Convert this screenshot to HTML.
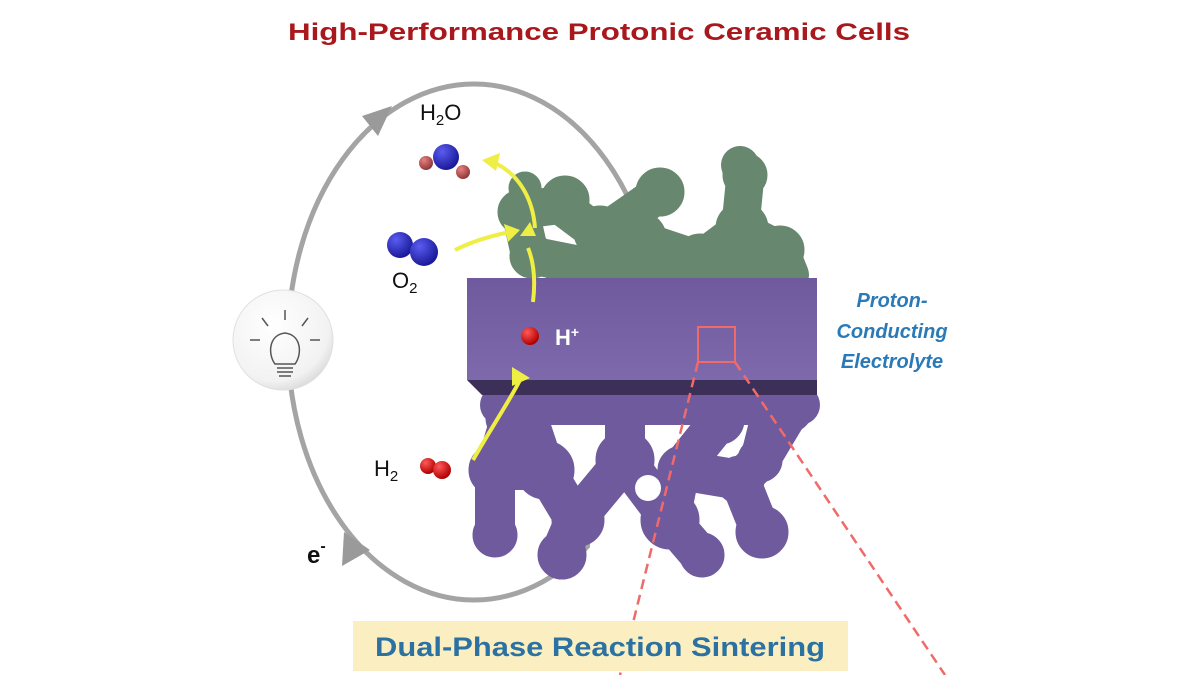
<!DOCTYPE html>
<html><head><meta charset="utf-8"><style>
html,body{margin:0;padding:0;background:#fff;}
svg{display:block;font-family:"Liberation Sans",Arial,sans-serif;}
</style></head><body>
<svg width="1200" height="675" viewBox="0 0 1200 675" xmlns="http://www.w3.org/2000/svg">
<defs>
<radialGradient id="bulb" cx="0.4" cy="0.35" r="0.7"><stop offset="0" stop-color="#ffffff"/><stop offset="0.8" stop-color="#f2f2f2"/><stop offset="1" stop-color="#d8d8d8"/></radialGradient>
<radialGradient id="blue" cx="0.35" cy="0.3" r="0.7"><stop offset="0" stop-color="#5a5cf0"/><stop offset="1" stop-color="#1a1a9a"/></radialGradient>
<radialGradient id="red" cx="0.35" cy="0.3" r="0.7"><stop offset="0" stop-color="#ff5a5a"/><stop offset="1" stop-color="#b00000"/></radialGradient>
<radialGradient id="pink" cx="0.35" cy="0.3" r="0.7"><stop offset="0" stop-color="#e88080"/><stop offset="1" stop-color="#903838"/></radialGradient>
<linearGradient id="face" x1="0" y1="0" x2="0" y2="1"><stop offset="0" stop-color="#6e5a9c"/><stop offset="1" stop-color="#7e69ad"/></linearGradient>
</defs>
<rect width="1200" height="675" fill="#fff"/>
<text x="599" y="40" text-anchor="middle" font-size="24" font-weight="bold" fill="#a8181c" textLength="622" lengthAdjust="spacingAndGlyphs">High-Performance Protonic Ceramic Cells</text>

<!-- loop -->
<ellipse cx="474" cy="342" rx="186" ry="258" fill="none" stroke="#a4a4a4" stroke-width="5"/>
<rect x="590" y="198" width="100" height="352" fill="#fff"/>
<polygon points="392,106 362,116 378,136" fill="#9a9a9a"/>
<polygon points="344,532 342,566 370,550" fill="#9a9a9a"/>

<!-- bulb -->
<circle cx="283" cy="340" r="50" fill="url(#bulb)" stroke="#e0e0e0"/>
<g stroke="#555" stroke-width="1.5" fill="none">
<line x1="285" y1="310" x2="285" y2="320"/><line x1="262" y1="318" x2="268" y2="326"/><line x1="308" y1="318" x2="302" y2="326"/>
<line x1="250" y1="340" x2="260" y2="340"/><line x1="310" y1="340" x2="320" y2="340"/>
<path d="M275,364 C268,355 268,335 285,333 C302,335 302,355 295,364 Z"/>
<line x1="277" y1="368" x2="293" y2="368"/><line x1="277" y1="372" x2="293" y2="372"/><line x1="279" y1="376" x2="291" y2="376"/>
</g>

<!-- green cathode -->
<g fill="#68876f" stroke="#68876f" stroke-linecap="round">
<path d="M520,210 L560,205 L600,235 L650,200 L660,190 M600,235 L640,240 L700,260 L740,230 L745,180 L740,165 M740,230 L780,250 L790,275 M530,255 L580,265 M640,240 L650,275 M700,260 L730,280 M520,210 L530,255 M560,265 L780,270" stroke-width="38" fill="none"/>
<circle cx="520" cy="212" r="22"/><circle cx="532" cy="256" r="22"/><circle cx="565" cy="200" r="24"/>
<circle cx="600" cy="232" r="26"/><circle cx="660" cy="192" r="24"/><circle cx="640" cy="238" r="26"/>
<circle cx="700" cy="258" r="24"/><circle cx="742" cy="228" r="26"/><circle cx="745" cy="175" r="22"/>
<circle cx="780" cy="250" r="24"/><circle cx="582" cy="265" r="20"/><circle cx="525" cy="188" r="16"/>
</g>

<!-- purple anode -->
<g fill="#6e5a9c" stroke="#6e5a9c" stroke-linecap="round">
<path d="M510,420 L495,470 L495,530 M495,470 L545,470 L575,520 L560,555 M545,470 L525,410 M575,520 L625,460 L625,400 M625,460 L670,520 L700,555 M670,520 L680,470 L720,420 M680,470 L740,480 L760,530 M740,480 L760,460 L790,410 M760,460 L770,420 M500,405 L800,405" stroke-width="40" fill="none"/>
<circle cx="510" cy="418" r="24"/><circle cx="495" cy="470" r="26"/><circle cx="495" cy="535" r="22"/>
<circle cx="545" cy="470" r="29"/><circle cx="578" cy="520" r="26"/><circle cx="562" cy="555" r="24"/>
<circle cx="625" cy="400" r="22"/><circle cx="625" cy="460" r="29"/><circle cx="670" cy="520" r="29"/>
<circle cx="682" cy="470" r="24"/><circle cx="720" cy="420" r="24"/><circle cx="740" cy="480" r="24"/>
<circle cx="762" cy="532" r="26"/><circle cx="790" cy="410" r="22"/><circle cx="760" cy="460" r="22"/>
<circle cx="702" cy="555" r="22"/>
</g>
<circle cx="648" cy="488" r="13" fill="#fff"/>

<!-- electrolyte -->
<polygon points="467,380 817,380 817,395 482,395" fill="#3c2f58"/>
<rect x="467" y="278" width="350" height="102" fill="url(#face)"/>

<!-- red square and dashes -->
<rect x="698" y="327" width="37" height="35" fill="none" stroke="#f06a6a" stroke-width="2"/>
<line x1="698" y1="362" x2="620" y2="675" stroke="#f06a6a" stroke-width="2.5" stroke-dasharray="10,6"/>
<line x1="735" y1="362" x2="945" y2="675" stroke="#f06a6a" stroke-width="2.5" stroke-dasharray="10,6"/>

<!-- yellow arrows -->
<g fill="none" stroke="#eeee44" stroke-width="4">
<path d="M473,460 C490,430 510,400 520,380"/>
<path d="M533,302 C535,285 535,265 528,248"/>
<path d="M455,250 C475,240 495,235 510,232"/>
<path d="M535,228 C533,200 520,175 495,163"/>
</g>
<g fill="#eeee44">
<polygon points="512,367 530,378 512,386"/>
<polygon points="520,236 536,236 530,222"/>
<polygon points="504,224 520,230 508,242"/>
<polygon points="482,160 500,153 496,171"/>
</g>

<!-- molecules -->
<circle cx="426" cy="163" r="7" fill="url(#pink)"/><circle cx="463" cy="172" r="7" fill="url(#pink)"/>
<circle cx="446" cy="157" r="13" fill="url(#blue)"/>
<circle cx="400" cy="245" r="13" fill="url(#blue)"/><circle cx="424" cy="252" r="14" fill="url(#blue)"/>
<circle cx="428" cy="466" r="8" fill="url(#red)"/><circle cx="442" cy="470" r="9" fill="url(#red)"/>
<circle cx="530" cy="336" r="9" fill="url(#red)"/>

<!-- labels -->
<text x="420" y="120" font-size="22" fill="#111">H<tspan font-size="15" dy="5">2</tspan><tspan dy="-5">O</tspan></text>
<text x="392" y="288" font-size="22" fill="#111">O<tspan font-size="15" dy="5">2</tspan></text>
<text x="374" y="476" font-size="22" fill="#111">H<tspan font-size="15" dy="5">2</tspan></text>
<text x="307" y="563" font-size="24" font-weight="bold" fill="#111">e<tspan font-size="16" dy="-12">-</tspan></text>
<text x="555" y="345" font-size="22" font-weight="bold" fill="#fff">H<tspan font-size="14" dy="-8">+</tspan></text>
<g font-size="20" font-style="italic" font-weight="bold" fill="#2a7ab8" text-anchor="middle">
<text x="892" y="307">Proton-</text><text x="892" y="338">Conducting</text><text x="892" y="368">Electrolyte</text>
</g>

<rect x="353" y="621" width="495" height="50" fill="#fbefc2"/>
<text x="600" y="656" text-anchor="middle" font-size="27" font-weight="bold" fill="#2b72a2" textLength="450" lengthAdjust="spacingAndGlyphs">Dual-Phase Reaction Sintering</text>
</svg>
</body></html>
